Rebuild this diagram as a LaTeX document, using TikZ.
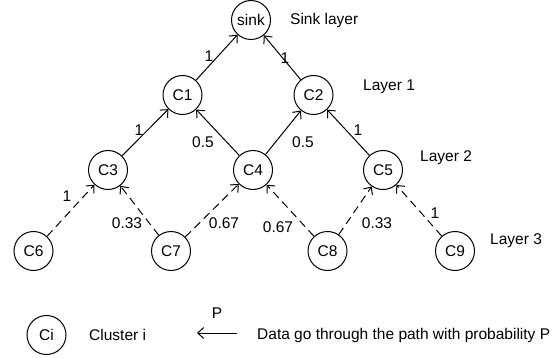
\documentclass[tikz,border=0pt]{standalone}
\usepackage{fontspec}
\setmainfont{Liberation Sans}
\usetikzlibrary{arrows.meta}
\begin{document}
\begin{tikzpicture}[x=1pt,y=-1pt,
  font=\fontsize{15.5}{18}\selectfont,
  cl/.style={circle,draw,line width=1pt,minimum size=39pt,inner sep=0pt},
  lbl/.style={inner sep=0pt},
  tip/.style={-{Straight Barb[length=6pt,width=11pt,line width=1pt]}},
  solidedge/.style={tip,line width=1pt},
  dashedge/.style={tip,line width=1pt,dash pattern=on 8pt off 5pt}]
\useasboundingbox (0,0) rectangle (559,358);
\node[cl] (sink) at (251,20) {sink};
\node[cl] (c1) at (182.5,95) {C1};
\node[cl] (c2) at (313.5,95) {C2};
\node[cl] (c3) at (108,170) {C3};
\node[cl] (c4) at (253,170) {C4};
\node[cl] (c5) at (383,170) {C5};
\node[cl] (c6) at (33.5,251) {C6};
\node[cl] (c7) at (171,251) {C7};
\node[cl] (c8) at (327.5,251) {C8};
\node[cl] (c9) at (455,251) {C9};
\node[cl] (ci) at (46.5,335) {Ci};

\node[lbl,anchor=west] (tsink) at (290,20) {Sink layer};
\node[lbl,anchor=west] (tl1) at (363,87) {Layer 1};
\node[lbl,anchor=west] (tl2) at (420,158) {Layer 2};
\node[lbl,anchor=west] (tl3) at (490,241) {Layer 3};
\node[lbl,anchor=west] (tci) at (89,335) {Cluster i};
\node[lbl,anchor=west] (tdata) at (257,335) {Data go through the path with probability P};
\coordinate (ars) at (237,333);
\coordinate (are) at (197,333);
\draw[solidedge] (ars) -- (are);
\node[lbl] (tp) at (217,313) {P};

\draw[solidedge] (c1) -- (sink);
\draw[solidedge] (c2) -- (sink);
\draw[solidedge] (c3) -- (c1);
\draw[solidedge] (c4) -- (c1);
\draw[solidedge] (c4) -- (c2);
\draw[solidedge] (c5) -- (c2);
\draw[dashedge] (c6) -- (c3);
\draw[dashedge] (c7) -- (c3);
\draw[dashedge] (c7) -- (c4);
\draw[dashedge] (c8) -- (c4);
\draw[dashedge] (c8) -- (c5);
\draw[dashedge] (c9) -- (c5);

\node[lbl] (e1) at (209,56) {1};
\node[lbl] (e2) at (285,58) {1};
\node[lbl] (e3) at (139,130) {1};
\node[lbl] (e4) at (203,142) {0.5};
\node[lbl] (e5) at (303,142) {0.5};
\node[lbl] (e6) at (358,130) {1};
\node[lbl] (e7) at (67,196) {1};
\node[lbl] (e8) at (127,223) {0.33};
\node[lbl] (e9) at (224,223) {0.67};
\node[lbl] (e10) at (278,227) {0.67};
\node[lbl] (e11) at (377,223) {0.33};
\node[lbl] (e12) at (435,213) {1};
\end{tikzpicture}
\end{document}
